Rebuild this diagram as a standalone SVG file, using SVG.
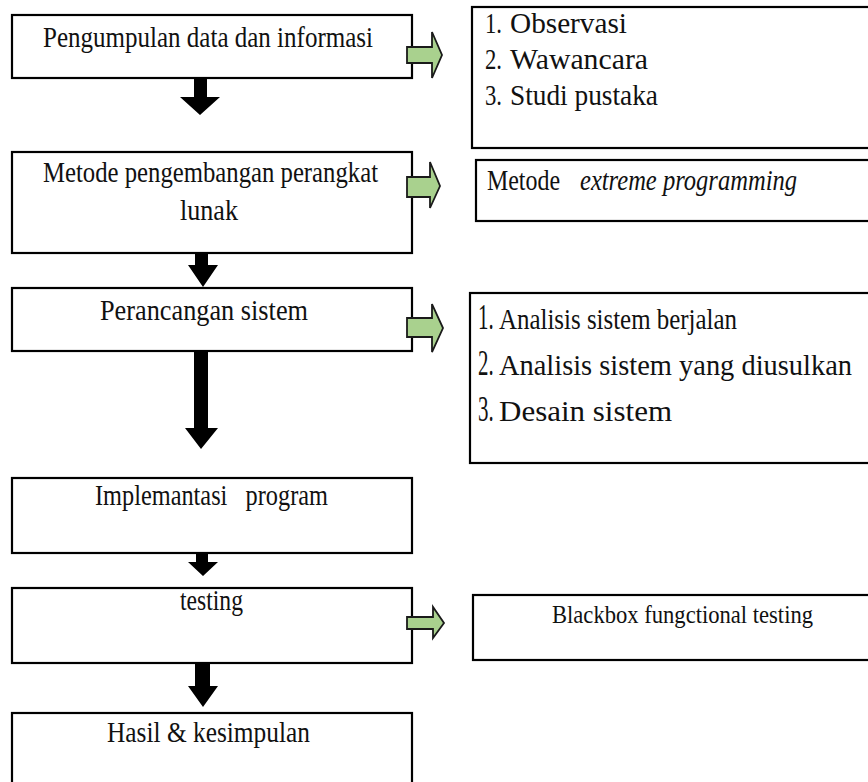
<svg xmlns="http://www.w3.org/2000/svg" width="868" height="782" viewBox="0 0 868 782">
<style>
.box{fill:#fff;stroke:#000;stroke-width:2.2}
.t{font-family:"Liberation Serif","Times New Roman",serif;font-size:30px;fill:#111}
.s26{font-size:26px}
.s29{font-size:29px}
.big{font-size:36px}
.it{font-style:italic}
.down{fill:#000}
.side{fill:#a9d18e;stroke:#1a1a1a;stroke-width:1.8;stroke-linejoin:miter}
</style>
<rect width="868" height="782" fill="#fff"/>

<g id="n1">
<rect class="box" x="12" y="15" width="400" height="63"/>
<text class="t" x="43" y="47" textLength="330" lengthAdjust="spacingAndGlyphs">Pengumpulan data dan informasi</text>
</g>
<g id="n2">
<rect class="box" x="12" y="152" width="400" height="101"/>
<text class="t" x="43" y="182" textLength="335" lengthAdjust="spacingAndGlyphs">Metode pengembangan perangkat</text>
<text class="t" x="180" y="220" textLength="58" lengthAdjust="spacingAndGlyphs">lunak</text>
</g>
<g id="n3">
<rect class="box" x="12" y="288" width="400" height="63"/>
<text class="t" x="100" y="320" textLength="208" lengthAdjust="spacingAndGlyphs">Perancangan sistem</text>
</g>
<g id="n4">
<rect class="box" x="12" y="478" width="400" height="75"/>
<text class="t" x="95" y="505" textLength="233" lengthAdjust="spacingAndGlyphs" xml:space="preserve">Implemantasi   program</text>
</g>
<g id="n5">
<rect class="box" x="12" y="588" width="400" height="75"/>
<text class="t" x="180" y="610" textLength="63" lengthAdjust="spacingAndGlyphs">testing</text>
</g>
<g id="n6">
<rect class="box" x="12" y="713" width="400" height="90"/>
<text class="t" x="107" y="742" textLength="203" lengthAdjust="spacingAndGlyphs">Hasil &amp; kesimpulan</text>
</g>

<g id="r1">
<rect class="box" x="472" y="7" width="420" height="141"/>
<text class="t" y="33"><tspan x="485" textLength="17" lengthAdjust="spacingAndGlyphs">1.</tspan><tspan x="510" textLength="117" lengthAdjust="spacingAndGlyphs">Observasi</tspan></text>
<text class="t" y="69"><tspan x="485" textLength="17" lengthAdjust="spacingAndGlyphs">2.</tspan><tspan x="510" textLength="138" lengthAdjust="spacingAndGlyphs">Wawancara</tspan></text>
<text class="t" y="105"><tspan x="485" textLength="17" lengthAdjust="spacingAndGlyphs">3.</tspan><tspan x="510" textLength="148" lengthAdjust="spacingAndGlyphs">Studi pustaka</tspan></text>
</g>
<g id="r2">
<rect class="box" x="476" y="160" width="420" height="61"/>
<text class="t" y="190"><tspan x="487" textLength="73" lengthAdjust="spacingAndGlyphs">Metode</tspan><tspan class="it" x="580" textLength="217" lengthAdjust="spacingAndGlyphs">extreme programming</tspan></text>
</g>
<g id="r3">
<rect class="box" x="470" y="293" width="420" height="170"/>
<text class="t big" transform="translate(478,329) scale(0.58,1)">1.</text>
<text class="t s29" x="499" y="329" textLength="238" lengthAdjust="spacingAndGlyphs">Analisis sistem berjalan</text>
<text class="t big" transform="translate(478,375) scale(0.58,1)">2.</text>
<text class="t s29" x="499" y="375" textLength="353" lengthAdjust="spacingAndGlyphs">Analisis sistem yang diusulkan</text>
<text class="t big" transform="translate(478,421) scale(0.58,1)">3.</text>
<text class="t s29" x="499" y="421" textLength="173" lengthAdjust="spacingAndGlyphs">Desain sistem</text>
</g>
<g id="r5">
<rect class="box" x="473" y="595" width="420" height="65"/>
<text class="t s26" x="552" y="623" textLength="261" lengthAdjust="spacingAndGlyphs">Blackbox fungctional testing</text>
</g>

<g id="connectors">
<polygon class="down" points="194,78 207,78 207,97 220,97 200,115 180,97 194,97"/>
<polygon class="down" points="195,253 208,253 208,265 218,265 203,287 188,265 195,265"/>
<polygon class="down" points="194,351 208,351 208,428 218,428 201,449 185,428 194,428"/>
<polygon class="down" points="196,553 208,553 208,562 218,562 203,576 188,562 196,562"/>
<polygon class="down" points="195,663 210,663 210,686 218,686 203,707 188,686 195,686"/>

<polygon class="side" points="407,47 432,47 432,32 442,55 432,78 432,63 407,63"/>
<polygon class="side" points="407,177 430,177 430,162 440,186 430,208 430,197 407,197"/>
<polygon class="side" points="407,318 432,318 432,304 443,328 432,352 432,337 407,337"/>
<polygon class="side" points="407,617 433,617 433,607 444,623 433,638 433,629 407,629"/>
</g>
</svg>
